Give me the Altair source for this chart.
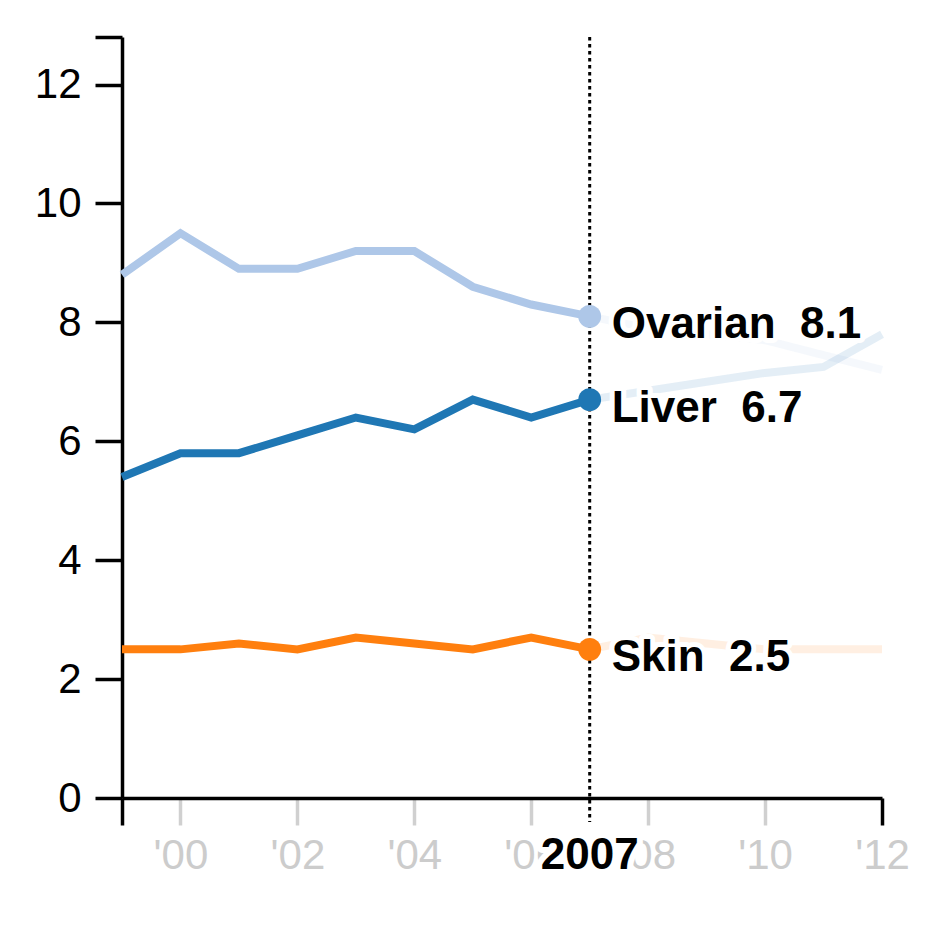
import altair as alt
import pandas as pd

years = list(range(1999, 2013))
series_names = ["Ovarian", "Liver", "Skin"]
series_colors = ["#aec7e8", "#1f77b4", "#ff7f0e"]
ovarian = [8.8, 9.5, 8.9, 8.9, 9.2, 9.2, 8.6, 8.3, 8.1, 7.9, 7.8, 7.7, 7.45, 7.2]
liver = [5.4, 5.8, 5.8, 6.1, 6.4, 6.2, 6.7, 6.4, 6.7, 6.85, 7.0, 7.15, 7.25, 7.8]
skin = [2.5, 2.5, 2.6, 2.5, 2.7, 2.6, 2.5, 2.7, 2.5, 2.7, 2.6, 2.5, 2.5, 2.5]
x_tick_values = [1999, 2000, 2002, 2004, 2006, 2008, 2010, 2012]
y_tick_values = [0, 2, 4, 6, 8, 10, 12, 12.8]
y_max = 12.8
focus_year = 2007

rows = []
for name, vals in zip(series_names, [ovarian, liver, skin]):
    for yr, v in zip(years, vals):
        rows.append({"year": yr, "value": v, "cancer": name})
df = pd.DataFrame(rows)

W, H = 760, 761
FONT = "Liberation Sans"

xscale = alt.Scale(domain=[1999, 2012], nice=False, zero=False)
yscale = alt.Scale(domain=[0, y_max], nice=False)
cscale = alt.Scale(domain=series_names, range=series_colors)

x_axis = alt.Axis(
    values=x_tick_values,
    labelExpr="datum.value == 1999 ? '' : \"'\" + substring(toString(datum.value), 2, 4)",
    grid=False,
    title=None,
    domainColor="black",
    domainWidth=3.5,
    tickWidth=3.5,
    tickSize=27,
    tickColor={"condition": {"test": "datum.value == 1999 || datum.value == 2012", "value": "black"}, "value": "#d0d0d0"},
    labelColor="#cccccc",
    labelFont=FONT,
    labelFontSize=42,
    labelPadding=10,
    labelFlush=False,
)
y_axis = alt.Axis(
    values=y_tick_values,
    labelExpr="datum.value > 12.5 ? '' : format(datum.value, 'd')",
    grid=False,
    title=None,
    domainColor="black",
    domainWidth=3.5,
    tickColor="black",
    tickWidth=3.5,
    tickSize=27,
    labelColor="black",
    labelFont=FONT,
    labelFontSize=42,
    labelPadding=14,
)

base = alt.Chart(df)

faded = base.transform_filter(alt.datum.year >= focus_year).mark_line(
    strokeWidth=8, opacity=0.12, strokeCap="butt"
).encode(
    x=alt.X("year:Q", scale=xscale, axis=x_axis),
    y=alt.Y("value:Q", scale=yscale, axis=y_axis),
    color=alt.Color("cancer:N", scale=cscale, legend=None),
    detail="cancer:N",
)

solid = base.transform_filter(alt.datum.year <= focus_year).mark_line(
    strokeWidth=8, strokeCap="butt"
).encode(
    x=alt.X("year:Q", scale=xscale),
    y=alt.Y("value:Q", scale=yscale),
    color=alt.Color("cancer:N", scale=cscale, legend=None),
    detail="cancer:N",
)

rule = alt.Chart(pd.DataFrame({"year": [focus_year]})).mark_rule(
    color="black", strokeWidth=3, strokeDash=[3.5, 3.5]
).encode(
    x=alt.X("year:Q", scale=xscale),
    y=alt.value(0),
    y2=alt.value(H + 24),
)

focus = base.transform_filter(alt.datum.year == focus_year).transform_calculate(
    label="datum.cancer + '\u00a0\u00a0' + format(datum.value, '.1f')"
)

points = focus.mark_circle(size=520, opacity=1).encode(
    x=alt.X("year:Q", scale=xscale),
    y=alt.Y("value:Q", scale=yscale),
    color=alt.Color("cancer:N", scale=cscale, legend=None),
)

label_halo = focus.mark_text(
    align="left", baseline="middle", dx=22, dy=9, font=FONT, fontSize=44,
    fontWeight="bold", fill="white", stroke="white", strokeWidth=10, strokeJoin="round"
).encode(
    x=alt.X("year:Q", scale=xscale),
    y=alt.Y("value:Q", scale=yscale),
    text="label:N",
)
labels = focus.mark_text(
    align="left", baseline="middle", dx=22, dy=9, font=FONT, fontSize=44,
    fontWeight="bold", color="black"
).encode(
    x=alt.X("year:Q", scale=xscale),
    y=alt.Y("value:Q", scale=yscale),
    text="label:N",
)

year_df = pd.DataFrame({"year": [focus_year], "txt": [str(focus_year)]})
year_halo = alt.Chart(year_df).mark_text(
    align="center", baseline="middle", font=FONT, fontSize=44, fontWeight="bold",
    fill="white", stroke="white", strokeWidth=12, strokeJoin="round"
).encode(x=alt.X("year:Q", scale=xscale), y=alt.value(H + 58), text="txt:N")
year_label = alt.Chart(year_df).mark_text(
    align="center", baseline="middle", font=FONT, fontSize=44, fontWeight="bold", color="black"
).encode(x=alt.X("year:Q", scale=xscale), y=alt.value(H + 58), text="txt:N")

chart = alt.layer(
    faded, rule, solid, points, label_halo, labels, year_halo, year_label
).properties(
    width=W, height=H,
    background="white",
    autosize=alt.AutoSizeParams(type="none"),
    padding={"left": 114, "top": 29, "right": 50, "bottom": 120},
).configure_view(stroke=None)

chart.save("out.html", embed_options={"renderer": "svg", "actions": False})
